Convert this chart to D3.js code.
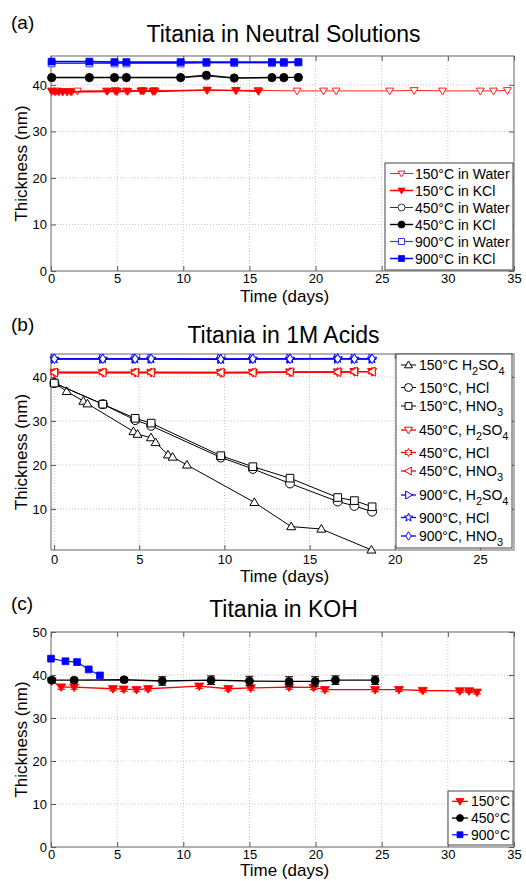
<!DOCTYPE html>
<html>
<head>
<meta charset="utf-8">
<script src="https://cdn.jsdelivr.net/npm/d3@7"></script>
<style>
  body { margin: 0; background: #fff; }
  svg text { font-family: "Liberation Sans", Arial, Helvetica, sans-serif; fill: #000; }
</style>
</head>
<body>
<svg id="chart" width="526" height="881"></svg>
<script>
// ---------- Panel (a): neutral solutions ----------
const aDays = [0.05, 2.9, 4.8, 5.7, 9.8, 11.75, 13.85, 16.7, 17.6, 18.7];
const a900Water = [44.6, 44.6, 44.6, 44.6, 44.6, 44.7, 44.7, 44.7, 44.7, 44.8];
const a900KCl = [45.0, 45.0, 44.9, 44.9, 44.9, 44.9, 44.9, 44.9, 44.9, 44.9];
const a450Water = [41.5, 41.5, 41.5, 41.5, 41.5, 41.9, 41.4, 41.5, 41.5, 41.6];
const a450KCl = [41.6, 41.6, 41.6, 41.6, 41.6, 42.1, 41.5, 41.6, 41.6, 41.6];
const a150WaterDays = [0.05, 0.45, 0.85, 1.25, 1.6, 2.0, 4.2, 4.85, 5.7, 6.9, 7.8, 11.8, 13.95, 15.65,
                       18.6, 20.6, 21.55, 25.6, 27.45, 29.6, 32.45, 33.45, 34.5];
const a150Water = [38.7, 38.7, 38.6, 38.6, 38.6, 38.7, 38.7, 38.8, 38.7, 38.8, 38.8, 38.8, 38.8, 38.8,
                   38.7, 38.7, 38.7, 38.7, 38.8, 38.7, 38.7, 38.7, 38.8];
const a150KClDays = [0.05, 0.3, 0.6, 0.9, 1.2, 1.5, 4.25, 4.9, 5.0, 5.8, 6.8, 7.0, 7.7, 7.85, 11.8, 14.0, 15.7];
const a150KCl = [38.6, 38.5, 38.5, 38.5, 38.5, 38.5, 38.6, 38.6, 38.6, 38.6, 38.7, 38.7, 38.6, 38.6, 38.9, 38.8, 38.6];

// ---------- Panel (b): 1M acids ----------
const bDays = [0.02, 2.86, 4.76, 5.7, 9.79, 11.67, 13.85, 16.65, 17.63, 18.67];
const b150HCl = [38.6, 33.8, 30.2, 28.9, 21.7, 19.1, 15.8, 11.7, 10.7, 9.4];
const b150HNO3 = [38.6, 33.8, 30.6, 29.5, 22.1, 19.6, 17.0, 12.6, 11.9, 10.5];
const b150H2SO4Days = [0.02, 0.74, 1.72, 1.96, 4.66, 4.9, 5.69, 5.96, 6.69, 6.96, 7.8, 11.76, 13.92, 15.69, 18.63];
const b150H2SO4 = [38.6, 36.7, 34.5, 33.9, 27.6, 27.0, 26.2, 25.1, 22.3, 21.8, 20.0, 11.5, 6.0, 5.45, 0.7];
const b450H2SO4 = [41.0, 41.0, 41.0, 41.0, 41.0, 41.0, 41.1, 41.1, 41.2, 41.2];
const b450HCl = [41.0, 41.0, 41.0, 41.0, 40.9, 41.0, 41.1, 41.1, 41.2, 41.2];
const b450HNO3 = [41.0, 41.0, 41.0, 41.0, 41.0, 41.0, 41.1, 41.1, 41.2, 41.2];
const b900H2SO4 = [44.1, 44.1, 44.1, 44.1, 44.1, 44.1, 44.1, 44.1, 44.1, 44.1];
const b900HCl = [44.1, 44.1, 44.1, 44.1, 44.0, 44.1, 44.1, 44.2, 44.1, 44.1];
const b900HNO3 = [44.1, 44.1, 44.1, 44.1, 44.0, 44.1, 44.1, 44.1, 44.1, 44.1];

// ---------- Panel (c): KOH ----------
const c900Days = [0.0, 1.09, 1.97, 2.85, 3.7];
const c900 = [43.8, 43.2, 43.0, 41.3, 39.9];
const c450Days = [0.05, 1.75, 5.53, 8.41, 12.1, 15.0, 18.0, 19.97, 21.5, 24.5];
const c450 = [38.8, 38.8, 38.9, 38.6, 38.8, 38.6, 38.5, 38.5, 38.8, 38.8];
const c450Err = [0.4, 0.4, 0.5, 1.0, 1.0, 1.1, 1.1, 1.1, 1.0, 1.0];
const c150Days = [0.05, 0.77, 1.75, 4.68, 5.5, 6.46, 7.34, 11.2, 13.4, 15.1, 18.0, 19.85, 20.7,
                  24.5, 26.3, 28.1, 30.9, 31.6, 32.2];
const c150 = [38.6, 37.2, 37.2, 36.8, 36.7, 36.6, 36.8, 37.4, 36.8, 37.0, 37.2, 37.1, 36.6,
              36.6, 36.6, 36.4, 36.3, 36.3, 36.0];
const c150Err = [0.3, 0.5, 0.5, 0.5, 0.5, 0.5, 0.5, 0.5, 0.5, 0.5, 0.5, 0.5, 0.5,
                 0.5, 0.4, 0.4, 0.4, 0.4, 0.4];

const ticks35 = [0, 5, 10, 15, 20, 25, 30, 35];
const ticks25 = [0, 5, 10, 15, 20, 25];

const svg = d3.select("#chart");

// MATLAB-like marker shapes, centred at 0,0
function markerPath(type, s) {
  const h = s / 2;
  const poly = pts => "M" + pts.map(p => p[0].toFixed(2) + "," + p[1].toFixed(2)).join("L") + "Z";
  const star = (n, ro, ri) => {
    const pts = [];
    for (let i = 0; i < 2 * n; i++) {
      const r = i % 2 === 0 ? ro : ri;
      const a = -Math.PI / 2 + i * Math.PI / n;
      pts.push([r * Math.cos(a), r * Math.sin(a)]);
    }
    return poly(pts);
  };
  switch (type) {
    case "o": return d3.symbol(d3.symbolCircle, Math.PI * h * h)();
    case "s": return poly([[-h * 0.85, -h * 0.85], [h * 0.85, -h * 0.85], [h * 0.85, h * 0.85], [-h * 0.85, h * 0.85]]);
    case "d": return poly([[0, -h * 1.05], [h * 0.7, 0], [0, h * 1.05], [-h * 0.7, 0]]);
    case "^": return poly([[0, -h], [h, h * 0.7], [-h, h * 0.7]]);
    case "v": return poly([[0, h], [h, -h * 0.7], [-h, -h * 0.7]]);
    case "<": return poly([[-h, 0], [h * 0.7, -h], [h * 0.7, h]]);
    case ">": return poly([[h, 0], [-h * 0.7, -h], [-h * 0.7, h]]);
    case "p": return star(5, h * 1.1, h * 0.45);
    case "h": return star(6, h, h * 0.55);
  }
}

// label text with "_n" subscripts
function addLabel(sel, label, size) {
  const parts = label.split(/_(\d)/);
  parts.forEach((txt, i) => {
    if (txt === "") return;
    const sub = i % 2 === 1;
    sel.append("tspan")
      .attr("font-size", sub ? size - 3 : size)
      .attr("dy", sub ? 5 : (i > 0 ? -5 : 0))
      .text(txt);
  });
}

function drawPanel(p) {
  const x = d3.scaleLinear().domain(p.xDomain).range([p.left, p.right]);
  const y = d3.scaleLinear().domain(p.yDomain).range([p.bottom, p.top]);
  const g = svg.append("g");

  // grid
  g.append("g").selectAll("line")
    .data(p.xTicks.filter(t => x(t) > p.left + 1 && x(t) < p.right - 1))
    .join("line")
    .attr("x1", d => x(d)).attr("x2", d => x(d))
    .attr("y1", p.top).attr("y2", p.bottom)
    .attr("stroke", "#c4c4c4").attr("stroke-dasharray", "1,2");
  g.append("g").selectAll("line")
    .data(p.yTicks.filter(t => y(t) > p.top + 1 && y(t) < p.bottom - 1))
    .join("line")
    .attr("x1", p.left).attr("x2", p.right)
    .attr("y1", d => y(d)).attr("y2", d => y(d))
    .attr("stroke", "#c4c4c4").attr("stroke-dasharray", "1,2");

  // axes with inward ticks
  const axB = g.append("g").attr("transform", `translate(0,${p.bottom})`)
    .call(d3.axisBottom(x).tickValues(p.xTicks).tickSize(-5).tickPadding(p.xPad));
  const axT = g.append("g").attr("transform", `translate(0,${p.top})`)
    .call(d3.axisTop(x).tickValues(p.xTicks).tickSize(-5).tickFormat(""));
  const axL = g.append("g").attr("transform", `translate(${p.left},0)`)
    .call(d3.axisLeft(y).tickValues(p.yTicks).tickSize(-5).tickPadding(4));
  const axR = g.append("g").attr("transform", `translate(${p.right},0)`)
    .call(d3.axisRight(y).tickValues(p.yTicks).tickSize(-5).tickFormat(""));
  [axB, axT, axL, axR].forEach(a => {
    a.select(".domain").remove();
    a.selectAll(".tick line").attr("stroke", "#555");
    a.selectAll(".tick text").attr("font-size", 13).attr("font-family", null);
  });
  g.append("rect")
    .attr("x", p.left).attr("y", p.top)
    .attr("width", p.right - p.left).attr("height", p.bottom - p.top)
    .attr("fill", "none").attr("stroke", "#666").attr("stroke-width", 1);

  // series
  p.series.forEach(s => {
    const pts = s.x.map((d, i) => [d, s.y[i]]);
    if (s.err) {
      const eg = g.append("g").attr("stroke", s.color).attr("stroke-width", 1);
      pts.forEach((d, i) => {
        const cx = x(d[0]);
        eg.append("line").attr("x1", cx).attr("x2", cx)
          .attr("y1", y(d[1] - s.err[i])).attr("y2", y(d[1] + s.err[i]));
        [d[1] - s.err[i], d[1] + s.err[i]].forEach(v => {
          eg.append("line").attr("x1", cx - 4).attr("x2", cx + 4)
            .attr("y1", y(v)).attr("y2", y(v));
        });
      });
    }
    g.append("path")
      .attr("d", d3.line().x(d => x(d[0])).y(d => y(d[1]))(pts))
      .attr("fill", "none").attr("stroke", s.color).attr("stroke-width", s.lw);
    g.append("g").selectAll("path").data(pts).join("path")
      .attr("transform", d => `translate(${x(d[0])},${y(d[1])})`)
      .attr("d", markerPath(s.marker, s.size))
      .attr("fill", s.filled ? s.color : "#fff")
      .attr("stroke", s.color).attr("stroke-width", s.filled ? 0.8 : 1);
  });

  // titles and labels
  svg.append("text").attr("x", 11).attr("y", p.letterY)
    .attr("font-size", 19).text(p.letter);
  svg.append("text").attr("x", (p.left + p.right) / 2 + 1).attr("y", p.titleY)
    .attr("text-anchor", "middle").attr("font-size", 23).text(p.title);
  svg.append("text").attr("x", (p.left + p.right) / 2 + 2).attr("y", p.xLabelY)
    .attr("text-anchor", "middle").attr("font-size", 17).text("Time (days)");
  svg.append("text")
    .attr("transform", `translate(27,${(p.top + p.bottom) / 2}) rotate(-90)`)
    .attr("text-anchor", "middle").attr("font-size", 17).text("Thickness (nm)");

  // legend
  const L = p.legend;
  const lg = svg.append("g");
  lg.append("rect").attr("x", L.x).attr("y", L.y).attr("width", L.w).attr("height", L.h)
    .attr("fill", "#fff").attr("stroke", "#444").attr("stroke-width", 1);
  let cy = L.y + L.pad;
  p.series.forEach(s => {
    const hasSub = /_\d/.test(s.label);
    const rh = hasSub ? L.subRow : L.row;
    const ry = cy + rh / 2 - (hasSub ? 2 : 0);
    lg.append("line").attr("x1", L.x + L.l1).attr("x2", L.x + L.l2)
      .attr("y1", ry).attr("y2", ry)
      .attr("stroke", s.color).attr("stroke-width", Math.min(s.lw, 1.5));
    lg.append("path").attr("transform", `translate(${L.x + (L.l1 + L.l2) / 2},${ry})`)
      .attr("d", markerPath(s.marker, s.size - 1))
      .attr("fill", s.filled ? s.color : "#fff")
      .attr("stroke", s.color).attr("stroke-width", s.filled ? 0.8 : 1);
    const t = lg.append("text").attr("x", L.x + L.tx).attr("y", ry + 5);
    addLabel(t, s.label, 14);
    cy += rh;
  });
}

drawPanel({
  letter: "(a)", letterY: 29, title: "Titania in Neutral Solutions", titleY: 42, xLabelY: 302,
  left: 51, right: 514, top: 56, bottom: 271,
  xDomain: [0, 35], yDomain: [0, 46.2], xTicks: ticks35, yTicks: [0, 10, 20, 30, 40], xPad: 3,
  series: [
    { label: "150°C in Water", x: a150WaterDays, y: a150Water, color: "#ff2020", marker: "v", filled: false, size: 8, lw: 1 },
    { label: "150°C in KCl", x: a150KClDays, y: a150KCl, color: "#ff0000", marker: "v", filled: true, size: 8, lw: 1.6 },
    { label: "450°C in Water", x: aDays, y: a450Water, color: "#333", marker: "o", filled: false, size: 8, lw: 1 },
    { label: "450°C in KCl", x: aDays, y: a450KCl, color: "#000", marker: "o", filled: true, size: 8, lw: 1.4 },
    { label: "900°C in Water", x: aDays, y: a900Water, color: "#3838ff", marker: "s", filled: false, size: 8, lw: 1.2 },
    { label: "900°C in KCl", x: aDays, y: a900KCl, color: "#0000ff", marker: "s", filled: true, size: 8, lw: 1.8 }
  ],
  legend: { x: 385, y: 163, w: 128, h: 107, pad: 2, row: 17, subRow: 17, l1: 5, l2: 28, tx: 30 }
});

drawPanel({
  letter: "(b)", letterY: 331, title: "Titania in 1M Acids", titleY: 343, xLabelY: 582,
  left: 51, right: 514, top: 354, bottom: 550,
  xDomain: [-0.18, 27], yDomain: [0.68, 45.2], xTicks: ticks25, yTicks: [10, 20, 30, 40], xPad: 5,
  series: [
    { label: "150°C H_2SO_4", x: b150H2SO4Days, y: b150H2SO4, color: "#000", marker: "^", filled: false, size: 9, lw: 1 },
    { label: "150°C, HCl", x: bDays, y: b150HCl, color: "#000", marker: "o", filled: false, size: 9, lw: 1 },
    { label: "150°C, HNO_3", x: bDays, y: b150HNO3, color: "#000", marker: "s", filled: false, size: 9, lw: 1 },
    { label: "450°C, H_2SO_4", x: bDays, y: b450H2SO4, color: "#ff0000", marker: "v", filled: false, size: 9, lw: 1.3 },
    { label: "450°C, HCl", x: bDays, y: b450HCl, color: "#ff0000", marker: "h", filled: false, size: 9, lw: 1.3 },
    { label: "450°C, HNO_3", x: bDays, y: b450HNO3, color: "#ff0000", marker: "<", filled: false, size: 9, lw: 1.3 },
    { label: "900°C, H_2SO_4", x: bDays, y: b900H2SO4, color: "#0000ff", marker: ">", filled: false, size: 9, lw: 1.3 },
    { label: "900°C, HCl", x: bDays, y: b900HCl, color: "#0000ff", marker: "p", filled: false, size: 9, lw: 1.3 },
    { label: "900°C, HNO_3", x: bDays, y: b900HNO3, color: "#0000ff", marker: "d", filled: false, size: 9, lw: 1.3 }
  ],
  legend: { x: 396, y: 354, w: 116, h: 194, pad: 1, row: 17, subRow: 24, l1: 5, l2: 20, tx: 23 }
});

drawPanel({
  letter: "(c)", letterY: 610, title: "Titania in KOH", titleY: 617, xLabelY: 876,
  left: 51, right: 514, top: 632, bottom: 847,
  xDomain: [0, 35], yDomain: [0, 50], xTicks: ticks35, yTicks: [0, 10, 20, 30, 40, 50], xPad: 3,
  series: [
    { label: "150°C", x: c150Days, y: c150, err: c150Err, color: "#ff0000", marker: "v", filled: true, size: 9, lw: 1.3 },
    { label: "450°C", x: c450Days, y: c450, err: c450Err, color: "#000", marker: "o", filled: true, size: 8, lw: 1.3 },
    { label: "900°C", x: c900Days, y: c900, color: "#0000ff", marker: "s", filled: true, size: 8, lw: 1.2 }
  ],
  legend: { x: 448, y: 791, w: 65, h: 54, pad: 2, row: 16.7, subRow: 16.7, l1: 4, l2: 20, tx: 23 }
});
</script>
</body>
</html>
